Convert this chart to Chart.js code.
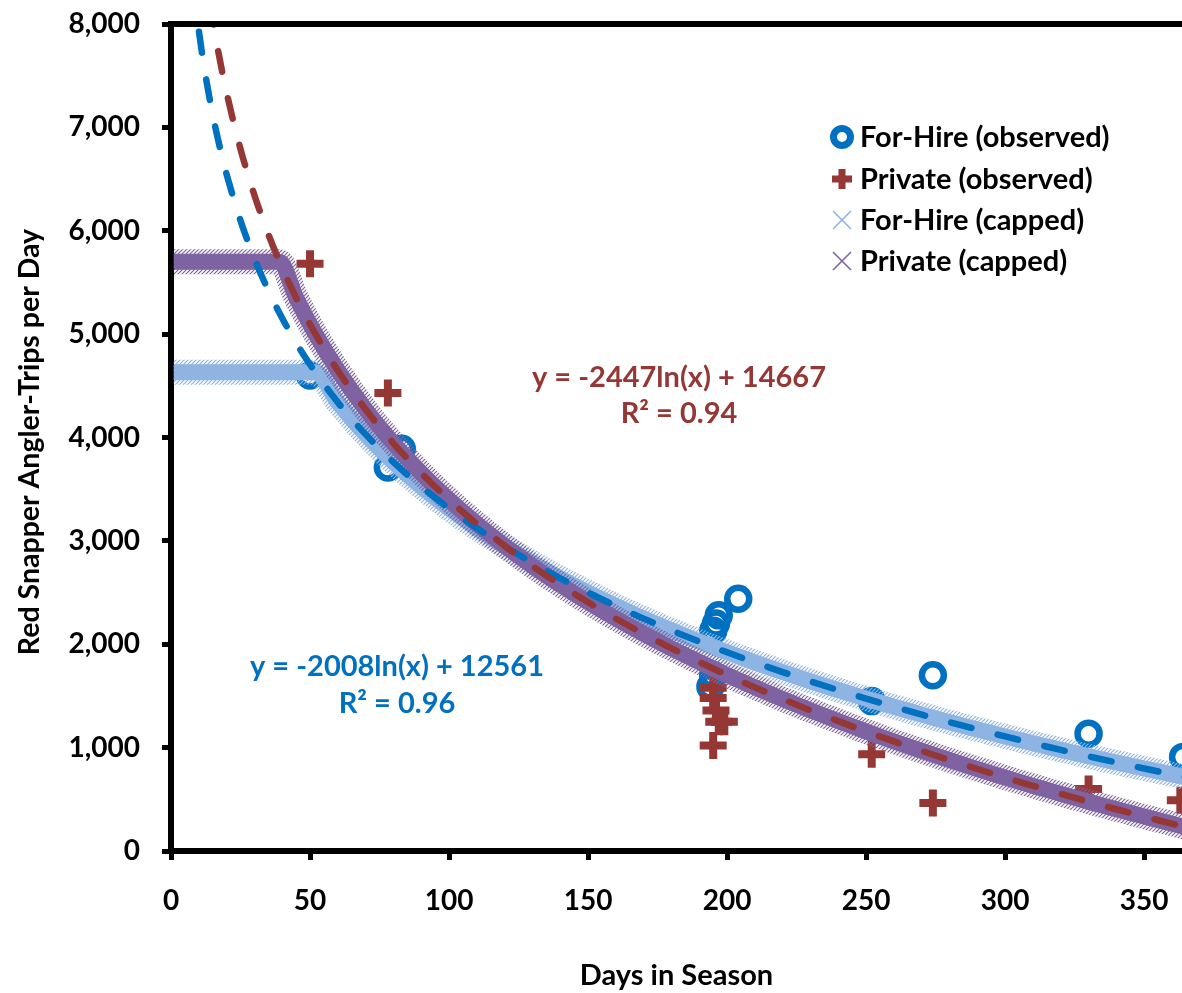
<!DOCTYPE html>
<html>
<head>
<meta charset="utf-8">
<title>Red Snapper Angler-Trips per Day</title>
<script src="https://cdn.jsdelivr.net/npm/chart.js@4/dist/chart.umd.min.js"></script>
<style>
  html, body { margin: 0; padding: 0; background: #ffffff; overflow: hidden; }
  #wrap { width: 1182px; height: 993px; position: relative; }
</style>
</head>
<body>
<div id="wrap"><canvas id="chart"></canvas></div>
<script>
// ---- Observed angler-trips per day, by season length ----
const forHireDays  = [50, 78, 83, 194, 195, 195, 196, 197, 204, 252, 274, 330, 364, 364];
const forHireTrips = [4600, 3710, 3890, 1590, 1700, 2130, 2200, 2280, 2440, 1450, 1700, 1135, 910, 520];

const privateDays  = [50, 78, 195, 195, 196, 197, 199, 195, 252, 274, 330, 363];
const privateTrips = [5680, 4430, 1580, 1480, 1360, 1250, 1250, 1020, 935, 465, 600, 490];

// ---- Capped projections (flat at the cap, then following the fitted curve) ----
const capDays = [1, 10, 20, 30, 39, 45, 52, 60, 70, 80, 90, 100, 110, 120, 130, 140, 150, 160, 170, 180,
                 190, 200, 210, 220, 230, 240, 250, 260, 270, 280, 290, 300, 310, 320, 330, 340, 350, 360, 365];
const forHireCapped = [4630, 4630, 4630, 4630, 4630, 4630, 4630, 4340, 4030, 3762, 3525, 3314, 3122, 2948, 2787, 2638, 2500, 2370, 2248, 2134,
                       2025, 1922, 1824, 1731, 1641, 1556, 1474, 1395, 1319, 1246, 1176, 1108, 1042, 978, 916, 856, 798, 742, 714];
const privateCapped = [5700, 5700, 5700, 5700, 5700, 5352, 4998, 4648, 4271, 3944, 3656, 3398, 3165, 2952, 2756, 2575, 2406, 2248, 2100, 1960,
                       1828, 1702, 1583, 1469, 1360, 1256, 1156, 1060, 968, 879, 793, 710, 630, 552, 477, 404, 333, 264, 230];

// ---- Logarithmic trendlines ----
const trendDays = [8, 10, 12, 14, 16, 18, 20, 25, 30, 35, 40, 45, 50, 60, 70, 80, 90, 100, 110, 120, 130, 140, 150, 160, 170, 180,
                   190, 200, 210, 220, 230, 240, 250, 260, 270, 280, 290, 300, 310, 320, 330, 340, 350, 360, 365];
const forHireTrend = [8386, 7937, 7571, 7262, 6994, 6757, 6546, 6098, 5731, 5422, 5154, 4917, 4706, 4340, 4030, 3762, 3525, 3314, 3122, 2948, 2787, 2638, 2500, 2370, 2248, 2134,
                      2025, 1922, 1824, 1731, 1641, 1556, 1474, 1395, 1319, 1246, 1176, 1108, 1042, 978, 916, 856, 798, 742, 714];
const privateTrend = [9579, 9033, 8586, 8209, 7882, 7594, 7336, 6790, 6344, 5967, 5640, 5352, 5094, 4648, 4271, 3944, 3656, 3398, 3165, 2952, 2756, 2575, 2406, 2248, 2100, 1960,
                      1828, 1702, 1583, 1469, 1360, 1256, 1156, 1060, 968, 879, 793, 710, 630, 552, 477, 404, 333, 264, 230];

// ---- Labels ----
const seriesLabels = ['For-Hire (observed)', 'Private (observed)', 'For-Hire (capped)', 'Private (capped)'];
const forHireEquation = ['y = -2008ln(x) + 12561', 'R² = 0.96'];
const privateEquation = ['y = -2447ln(x) + 14667', 'R² = 0.94'];
const xTitle = 'Days in Season';
const yTitle = 'Red Snapper Angler-Trips per Day';

const FONT = 'Lato, "Open Sans", sans-serif';
const BLUE = '#0070C0', RED = '#953735', LIGHT = '#8DB4E2', PURPLE = '#7F62A1';

const toPoints = (xs, ys) => xs.map((x, i) => ({ x: x, y: ys[i] }));

// Diagonal hatch used for the soft fringe of the capped bands
function hatchPattern(ctx, color) {
  const tile = document.createElement('canvas');
  tile.width = 4; tile.height = 4;
  const g = tile.getContext('2d');
  g.strokeStyle = color;
  g.lineWidth = 1.2;
  g.beginPath();
  g.moveTo(0, 4); g.lineTo(4, 0);
  g.moveTo(-1, 1); g.lineTo(1, -1);
  g.moveTo(3, 5); g.lineTo(5, 3);
  g.stroke();
  return ctx.createPattern(tile, 'repeat');
}

// Draws a wider hatched stroke beneath each capped band
const bandFringe = {
  id: 'bandFringe',
  beforeDatasetDraw(chart, args) {
    const ds = chart.data.datasets[args.index];
    if (!ds.fringeColor) return;
    const line = args.meta.dataset;
    const ctx = chart.ctx;
    const area = chart.chartArea;
    ctx.save();
    ctx.beginPath();
    ctx.rect(area.left, area.top, area.right - area.left, area.bottom - area.top);
    ctx.clip();
    ctx.beginPath();
    line.path(ctx);
    ctx.lineWidth = 25;
    ctx.lineJoin = 'round';
    ctx.strokeStyle = hatchPattern(ctx, ds.fringeColor);
    ctx.stroke();
    ctx.restore();
  }
};

// Legend drawn inside the plot area, right side
const legendBox = {
  id: 'legendBox',
  afterDraw(chart) {
    const ctx = chart.ctx;
    const markerX = 842, textX = 860, rows = [137, 179, 220, 261];
    ctx.save();
    ctx.font = 'bold 29px ' + FONT;
    ctx.textBaseline = 'middle';
    ctx.textAlign = 'left';
    ctx.fillStyle = '#000000';
    seriesLabels.forEach((label, i) => {
      const y = rows[i];
      ctx.save();
      if (i === 0) {
        ctx.strokeStyle = BLUE; ctx.lineWidth = 7;
        ctx.beginPath(); ctx.arc(markerX, y, 8.5, 0, Math.PI * 2); ctx.stroke();
      } else if (i === 1) {
        ctx.strokeStyle = RED; ctx.lineWidth = 7;
        ctx.beginPath();
        ctx.moveTo(markerX - 10, y); ctx.lineTo(markerX + 10, y);
        ctx.moveTo(markerX, y - 10); ctx.lineTo(markerX, y + 10);
        ctx.stroke();
      } else {
        ctx.strokeStyle = i === 2 ? LIGHT : PURPLE; ctx.lineWidth = 1.6;
        ctx.beginPath();
        ctx.moveTo(markerX - 9, y - 9); ctx.lineTo(markerX + 9, y + 9);
        ctx.moveTo(markerX + 9, y - 9); ctx.lineTo(markerX - 9, y + 9);
        ctx.stroke();
      }
      ctx.restore();
      ctx.fillText(label, textX, y + 1);
    });
    ctx.restore();
  }
};

// Trendline equations, y-axis title and the top frame line
const annotations = {
  id: 'annotations',
  afterDraw(chart) {
    const ctx = chart.ctx;
    const area = chart.chartArea;
    ctx.save();
    ctx.strokeStyle = '#000000';
    ctx.lineWidth = 6;
    ctx.beginPath();
    ctx.moveTo(area.left - 3, area.top);
    ctx.lineTo(area.right, area.top);
    ctx.stroke();

    ctx.font = 'bold 29px ' + FONT;
    ctx.textAlign = 'center';
    ctx.textBaseline = 'middle';
    ctx.fillStyle = RED;
    ctx.fillText(privateEquation[0], 679, 378);
    ctx.fillText(privateEquation[1], 679, 414);
    ctx.fillStyle = BLUE;
    ctx.fillText(forHireEquation[0], 397, 667);
    ctx.fillText(forHireEquation[1], 397, 704);

    ctx.fillStyle = '#000000';
    ctx.font = 'bold 28.5px ' + FONT;
    ctx.translate(30, 442);
    ctx.rotate(-Math.PI / 2);
    ctx.fillText(yTitle, 0, 0);
    ctx.restore();
  }
};

const tickFont = { family: FONT, size: 28, weight: 'bold' };
const noEdgePadding = (scale) => {
  scale.paddingLeft = 0; scale.paddingRight = 0;
  scale.paddingTop = 0; scale.paddingBottom = 0;
};

new Chart(document.getElementById('chart'), {
  type: 'scatter',
  data: {
    datasets: [
      {
        label: seriesLabels[0],
        data: toPoints(forHireDays, forHireTrips),
        pointStyle: 'circle', pointRadius: 11, pointBorderWidth: 6.5,
        borderColor: BLUE, backgroundColor: 'rgba(0,0,0,0)',
        pointHoverRadius: 11, order: 6
      },
      {
        label: seriesLabels[1],
        data: toPoints(privateDays, privateTrips),
        pointStyle: 'cross', pointRadius: 13.5, pointBorderWidth: 8,
        borderColor: RED, backgroundColor: RED,
        pointHoverRadius: 13.5, order: 5
      },
      {
        label: seriesLabels[2],
        type: 'line',
        data: toPoints(capDays, forHireCapped),
        showLine: true, borderColor: LIGHT, borderWidth: 16, pointRadius: 0,
        fringeColor: LIGHT,
        cubicInterpolationMode: 'monotone', borderJoinStyle: 'round', fill: false, order: 4
      },
      {
        label: seriesLabels[3],
        type: 'line',
        data: toPoints(capDays, privateCapped),
        showLine: true, borderColor: PURPLE, borderWidth: 16, pointRadius: 0,
        fringeColor: PURPLE,
        cubicInterpolationMode: 'monotone', borderJoinStyle: 'round', fill: false, order: 3
      },
      {
        label: 'For-Hire trend',
        type: 'line',
        data: toPoints(trendDays, forHireTrend),
        showLine: true, borderColor: BLUE, borderWidth: 6.5, pointRadius: 0,
        borderDash: [21, 27], borderCapStyle: 'round',
        cubicInterpolationMode: 'monotone', fill: false, order: 2
      },
      {
        label: 'Private trend',
        type: 'line',
        data: toPoints(trendDays, privateTrend),
        showLine: true, borderColor: RED, borderWidth: 6.5, pointRadius: 0,
        borderDash: [21, 27], borderCapStyle: 'round',
        cubicInterpolationMode: 'monotone', fill: false, order: 1
      }
    ]
  },
  options: {
    responsive: true,
    maintainAspectRatio: false,
    animation: false,
    events: [],
    layout: { autoPadding: false, padding: { top: 24, right: 0, left: 0, bottom: 0 } },
    plugins: {
      legend: { display: false },
      tooltip: { enabled: false }
    },
    scales: {
      x: {
        type: 'linear',
        min: 0,
        max: 363.6,
        afterFit(scale) { scale.height = 142; noEdgePadding(scale); },
        border: { display: true, color: '#000000', width: 6 },
        grid: { drawOnChartArea: false, drawTicks: true, tickLength: 9, lineWidth: 5, color: '#000000' },
        ticks: { stepSize: 50, includeBounds: false, color: '#000000', font: tickFont, padding: 24, maxRotation: 0 },
        title: { display: true, text: xTitle, color: '#000000', font: { family: FONT, size: 29, weight: 'bold' }, padding: { top: 0, bottom: 0 } }
      },
      y: {
        type: 'linear',
        min: 0,
        max: 8000,
        afterFit(scale) { scale.width = 171; noEdgePadding(scale); },
        border: { display: true, color: '#000000', width: 6 },
        grid: { drawOnChartArea: false, drawTicks: true, tickLength: 9, lineWidth: 5, color: '#000000' },
        ticks: {
          stepSize: 1000, color: '#000000', font: tickFont, padding: 22,
          callback: (v) => v.toLocaleString('en-US')
        }
      }
    }
  },
  plugins: [annotations, legendBox, bandFringe]
});
</script>
</body>
</html>
